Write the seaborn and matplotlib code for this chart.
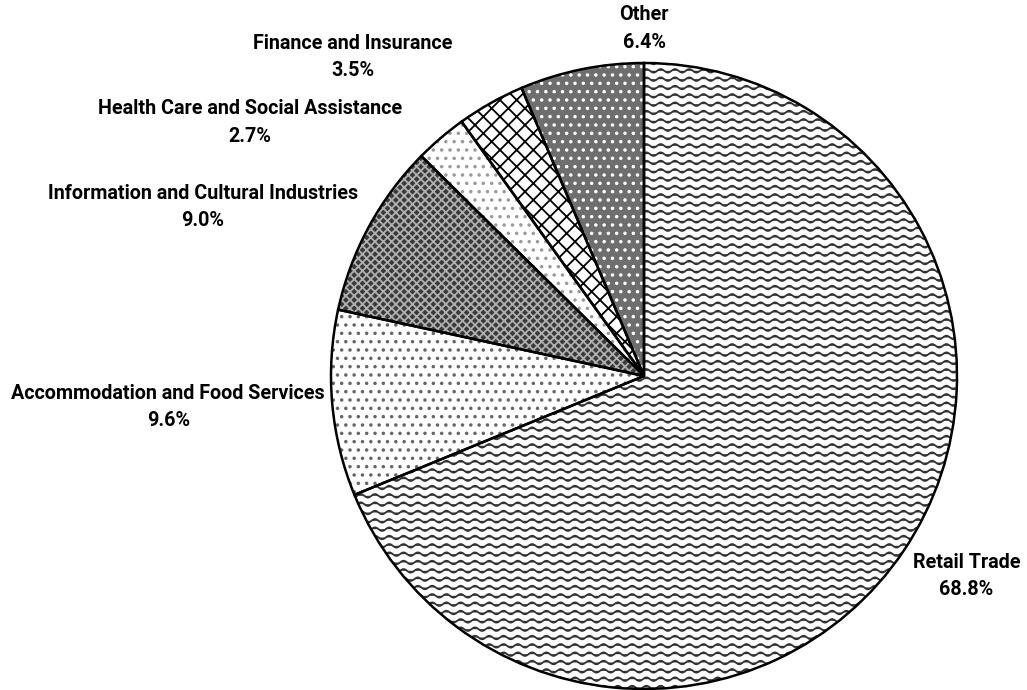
import warnings

import numpy as np
import matplotlib
matplotlib.use("Agg")
import matplotlib.pyplot as plt
import matplotlib.hatch as mhatch
from matplotlib.path import Path
import seaborn as sns

# share of businesses by industry (%), clockwise from 12 o'clock
sectors = [
    "Retail Trade",
    "Accommodation and Food Services",
    "Information and Cultural Industries",
    "Health Care and Social Assistance",
    "Finance and Insurance",
    "Other",
]
shares = [68.8, 9.6, 9.0, 2.7, 3.5, 6.4]

# fill style per slice
faces = ["white", "white", "#3a3a3a", "white", "white", "#6e6e6e"]
hatches = ["~", "..", "xxxx", "..", "xx", ".."]
hatch_colors = ["#333333", "#666666", "#b0b0b0", "#9a9a9a", "black", "white"]

# label block centres, in pie radii from the centre
label_xy = [(1.03, -0.64), (-1.52, -0.10), (-1.41, 0.54),
            (-1.26, 0.81), (-0.93, 1.02), (0.0, 1.11)]


class WaveHatch(mhatch.HatchPatternBase):
    """wavy horizontal lines, used for '~'"""

    def __init__(self, hatch, density):
        self.num_lines = hatch.count("~") * 12
        self.num_pts = 7 * 10 + 1
        self.num_vertices = self.num_lines * self.num_pts

    def set_vertices_and_codes(self, vertices, codes):
        x = np.linspace(0.0, 1.0, self.num_pts)
        wave = 0.018 * np.sin(2 * np.pi * 7 * x)
        for i in range(self.num_lines):
            y0 = (i + 0.5) / self.num_lines
            sl = slice(i * self.num_pts, (i + 1) * self.num_pts)
            vertices[sl, 0] = x
            vertices[sl, 1] = y0 + wave
            codes[sl] = Path.LINETO
            codes[i * self.num_pts] = Path.MOVETO


mhatch._hatch_types.append(WaveHatch)
warnings.filterwarnings("ignore")

sns.set_theme(style="white")
plt.rcParams["font.family"] = ["Roboto", "DejaVu Sans"]
plt.rcParams["hatch.linewidth"] = 1.3

R_PX = 313
fig = plt.figure(figsize=(10.27, 6.90), dpi=100)
ax = fig.add_axes([0, 0, 1, 1])

wedges, _ = ax.pie(shares, startangle=90, counterclock=False, radius=1,
                   wedgeprops=dict(linewidth=0))
for w, fc, h, hc in zip(wedges, faces, hatches, hatch_colors):
    w.set_facecolor(fc)
    w.set_edgecolor(hc)
    w.set_hatch(h)

# black outlines on top
ax.pie(shares, startangle=90, counterclock=False, radius=1,
       wedgeprops=dict(fill=False, edgecolor="black", linewidth=1.8))

for name, val, (lx, ly) in zip(sectors, shares, label_xy):
    ax.text(lx, ly, f"{name}\n{val:.1f}%", ha="center", va="center",
            fontsize=14.2, fontweight="bold", linespacing=1.55, color="black")

# centre of the pie sits at (644, 376) px from the top-left
ax.set_xlim(-644 / R_PX, (1027 - 644) / R_PX)
ax.set_ylim(-(690 - 376) / R_PX, 376 / R_PX)
ax.set_aspect("equal")
ax.axis("off")

fig.savefig("out.png", dpi=100)
